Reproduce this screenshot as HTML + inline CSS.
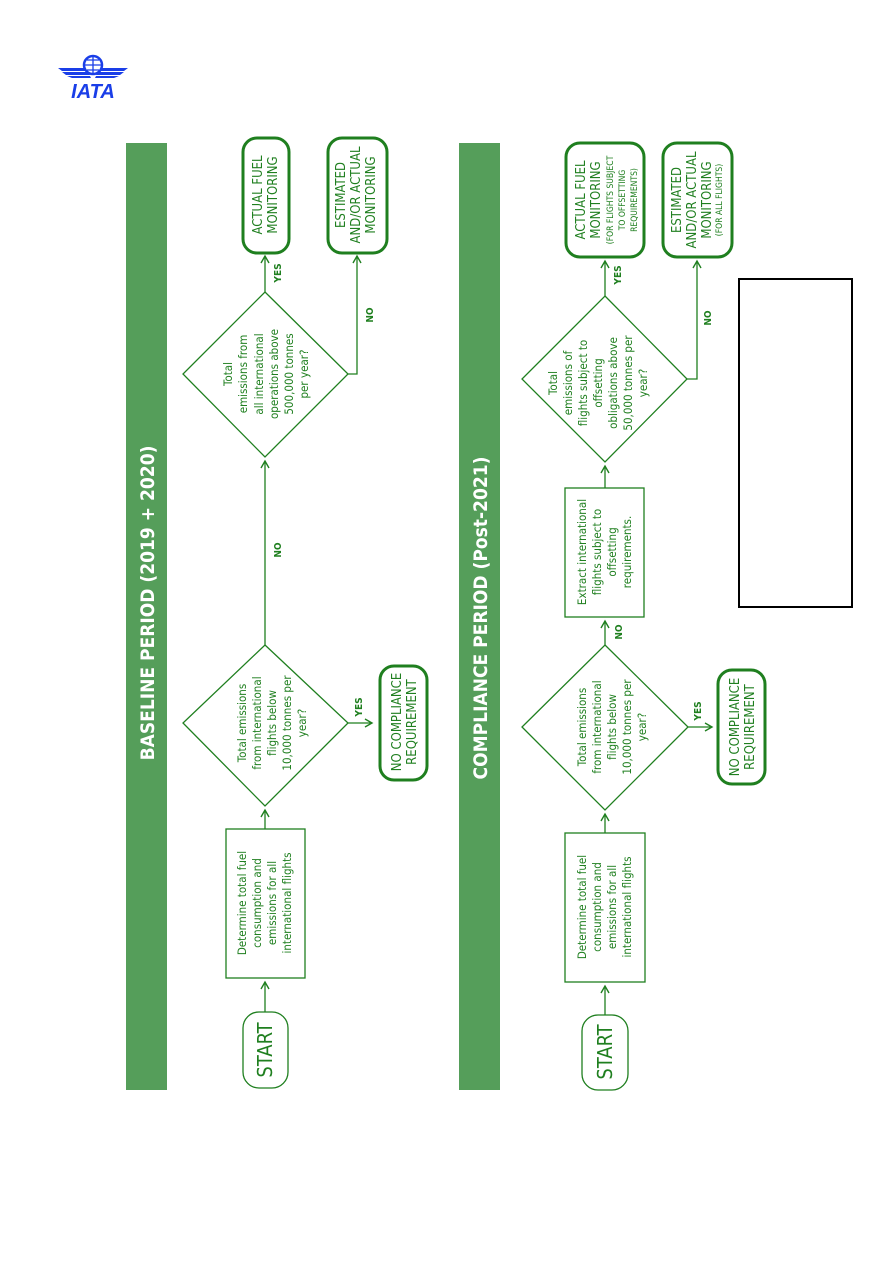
<!DOCTYPE html>
<html><head><meta charset="utf-8"><style>
html,body{margin:0;padding:0;background:#fff;}
svg{display:block;font-family:"DejaVu Sans Condensed","Liberation Sans",sans-serif;}
.t{fill:#1f7f1f;font-size:11.5px;}
.b{fill:#1f7f1f;font-size:13px;}
.s{fill:#1f7f1f;font-size:8.5px;}
.l{fill:#1f7f1f;font-size:10px;font-weight:bold;}
.h{fill:#fff;font-size:19px;font-weight:bold;}
</style></head><body>
<svg width="892" height="1263" viewBox="0 0 892 1263" xmlns="http://www.w3.org/2000/svg">
<defs><marker id="a" markerWidth="10" markerHeight="10" refX="8" refY="5" orient="auto" markerUnits="userSpaceOnUse"><path d="M1,1 L8,5 L1,9" fill="none" stroke="#1f7f1f" stroke-width="1.4"/></marker></defs>
<!-- logo -->
<g fill="#1a3ee8">
<circle cx="93" cy="65" r="9" fill="none" stroke="#1a3ee8" stroke-width="2.5"/>
<path d="M93 56 V74 M84 65 H102 M87 60 H99 M87 70 H99" stroke="#1a3ee8" stroke-width="1.3"/>
<path d="M58 68 H84 L87 71 H62 Z M62 72 H88 L90 75 H66 Z M67 76 H90 L91 78 H72 Z"/>
<path d="M128 68 H102 L99 71 H124 Z M124 72 H98 L96 75 H120 Z M119 76 H96 L95 78 H114 Z"/>
<text x="93" y="98" text-anchor="middle" font-family="Liberation Sans" font-style="italic" font-weight="bold" font-size="20">IATA</text>
</g>
<!-- bands -->
<rect x="126" y="143" width="41" height="947" fill="#559e5a"/>
<rect x="459" y="143" width="41" height="947" fill="#559e5a"/>
<text class="h" transform="translate(154,603) rotate(-90)" text-anchor="middle">BASELINE PERIOD (2019 + 2020)</text>
<text class="h" transform="translate(487,618) rotate(-90)" text-anchor="middle">COMPLIANCE PERIOD (Post-2021)</text>

<g fill="none" stroke="#1f7f1f" stroke-width="1.3">
<rect x="243" y="1012" width="45" height="76" rx="16"/>
<rect x="226" y="829" width="79" height="149"/>
<path d="M265 645 L348 723 L265 806 L183 723 Z"/>
<path d="M265 292 L348 374 L265 457 L183 374 Z"/>
<path d="M265 1012 V982" marker-end="url(#a)"/>
<path d="M265 829 V810" marker-end="url(#a)"/>
<path d="M348 723 H372" marker-end="url(#a)"/>
<path d="M265 645 V461" marker-end="url(#a)"/>
<path d="M265 292 V256" marker-end="url(#a)"/>
<path d="M348 374 H357 V256" marker-end="url(#a)"/>
<rect x="582" y="1015" width="46" height="75" rx="16"/>
<rect x="565" y="833" width="80" height="149"/>
<path d="M605 645 L688 727 L605 810 L522 727 Z"/>
<rect x="565" y="488" width="79" height="129"/>
<path d="M605 296 L687 379 L605 462 L522 379 Z"/>
<path d="M605 1015 V986" marker-end="url(#a)"/>
<path d="M605 833 V814" marker-end="url(#a)"/>
<path d="M688 727 H712" marker-end="url(#a)"/>
<path d="M605 645 V621" marker-end="url(#a)"/>
<path d="M605 488 V466" marker-end="url(#a)"/>
<path d="M605 296 V261" marker-end="url(#a)"/>
<path d="M687 379 H697 V261" marker-end="url(#a)"/>
</g>
<g fill="none" stroke="#1f7f1f" stroke-width="3">
<rect x="243" y="138" width="46" height="115" rx="14"/>
<rect x="328" y="138" width="59" height="115" rx="14"/>
<rect x="380" y="666" width="47" height="114" rx="14"/>
<rect x="566" y="143" width="78" height="114" rx="14"/>
<rect x="663" y="143" width="69" height="114" rx="14"/>
<rect x="718" y="670" width="47" height="114" rx="14"/>
</g>
<rect x="739" y="279" width="113" height="328" fill="none" stroke="#000" stroke-width="2"/>

<text class="b" style="font-size:20px" transform="translate(272,1050) rotate(-90)" text-anchor="middle">START</text>
<text class="t" transform="translate(265,903) rotate(-90)" text-anchor="middle"><tspan x="0" y="-19">Determine total fuel</tspan><tspan x="0" y="-4">consumption and</tspan><tspan x="0" y="11">emissions for all</tspan><tspan x="0" y="26">international flights</tspan></text>
<text class="t" transform="translate(272,723) rotate(-90)" text-anchor="middle"><tspan x="0" y="-26">Total emissions</tspan><tspan x="0" y="-11">from international</tspan><tspan x="0" y="4">flights below</tspan><tspan x="0" y="19">10,000 tonnes per</tspan><tspan x="0" y="34">year?</tspan></text>
<text class="t" transform="translate(266,374) rotate(-90)" text-anchor="middle"><tspan x="0" y="-34">Total</tspan><tspan x="0" y="-19">emissions from</tspan><tspan x="0" y="-3">all international</tspan><tspan x="0" y="12">operations above</tspan><tspan x="0" y="27">500,000 tonnes</tspan><tspan x="0" y="42">per year?</tspan></text>
<text class="b" transform="translate(265,195) rotate(-90)" text-anchor="middle"><tspan x="0" y="-3">ACTUAL FUEL</tspan><tspan x="0" y="12">MONITORING</tspan></text>
<text class="b" transform="translate(356,195) rotate(-90)" text-anchor="middle"><tspan x="0" y="-11">ESTIMATED</tspan><tspan x="0" y="4">AND/OR ACTUAL</tspan><tspan x="0" y="19">MONITORING</tspan></text>
<text class="b" transform="translate(404,722) rotate(-90)" text-anchor="middle"><tspan x="0" y="-3">NO COMPLIANCE</tspan><tspan x="0" y="12">REQUIREMENT</tspan></text>
<text class="l" transform="translate(362,707) rotate(-90)" text-anchor="middle">YES</text>
<text class="l" transform="translate(281,550) rotate(-90)" text-anchor="middle">NO</text>
<text class="l" transform="translate(281,273) rotate(-90)" text-anchor="middle">YES</text>
<text class="l" transform="translate(373,315) rotate(-90)" text-anchor="middle">NO</text>

<text class="b" style="font-size:20px" transform="translate(612,1052) rotate(-90)" text-anchor="middle">START</text>
<text class="t" transform="translate(605,907) rotate(-90)" text-anchor="middle"><tspan x="0" y="-19">Determine total fuel</tspan><tspan x="0" y="-4">consumption and</tspan><tspan x="0" y="11">emissions for all</tspan><tspan x="0" y="26">international flights</tspan></text>
<text class="t" transform="translate(612,727) rotate(-90)" text-anchor="middle"><tspan x="0" y="-26">Total emissions</tspan><tspan x="0" y="-11">from international</tspan><tspan x="0" y="4">flights below</tspan><tspan x="0" y="19">10,000 tonnes per</tspan><tspan x="0" y="34">year?</tspan></text>
<text class="t" transform="translate(605,552) rotate(-90)" text-anchor="middle"><tspan x="0" y="-19">Extract international</tspan><tspan x="0" y="-4">flights subject to</tspan><tspan x="0" y="11">offsetting</tspan><tspan x="0" y="26">requirements.</tspan></text>
<text class="t" transform="translate(598,383) rotate(-90)" text-anchor="middle"><tspan x="0" y="-41">Total</tspan><tspan x="0" y="-26">emissions of</tspan><tspan x="0" y="-11">flights subject to</tspan><tspan x="0" y="4">offsetting</tspan><tspan x="0" y="19">obligations above</tspan><tspan x="0" y="34">50,000 tonnes per</tspan><tspan x="0" y="49">year?</tspan></text>
<text class="b" transform="translate(605,200) rotate(-90)" text-anchor="middle"><tspan x="0" y="-20">ACTUAL FUEL</tspan><tspan x="0" y="-5">MONITORING</tspan></text>
<text class="s" transform="translate(605,200) rotate(-90)" text-anchor="middle"><tspan x="0" y="8">(FOR FLIGHTS SUBJECT</tspan><tspan x="0" y="20">TO OFFSETTING</tspan><tspan x="0" y="32">REQUIREMENTS)</tspan></text>
<text class="b" transform="translate(697,200) rotate(-90)" text-anchor="middle"><tspan x="0" y="-16">ESTIMATED</tspan><tspan x="0" y="-1">AND/OR ACTUAL</tspan><tspan x="0" y="14">MONITORING</tspan></text>
<text class="s" transform="translate(697,200) rotate(-90)" text-anchor="middle"><tspan x="0" y="25">(FOR ALL FLIGHTS)</tspan></text>
<text class="b" transform="translate(742,727) rotate(-90)" text-anchor="middle"><tspan x="0" y="-3">NO COMPLIANCE</tspan><tspan x="0" y="12">REQUIREMENT</tspan></text>
<text class="l" transform="translate(701,711) rotate(-90)" text-anchor="middle">YES</text>
<text class="l" transform="translate(622,632) rotate(-90)" text-anchor="middle">NO</text>
<text class="l" transform="translate(621,275) rotate(-90)" text-anchor="middle">YES</text>
<text class="l" transform="translate(711,318) rotate(-90)" text-anchor="middle">NO</text>
</svg>
</body></html>
